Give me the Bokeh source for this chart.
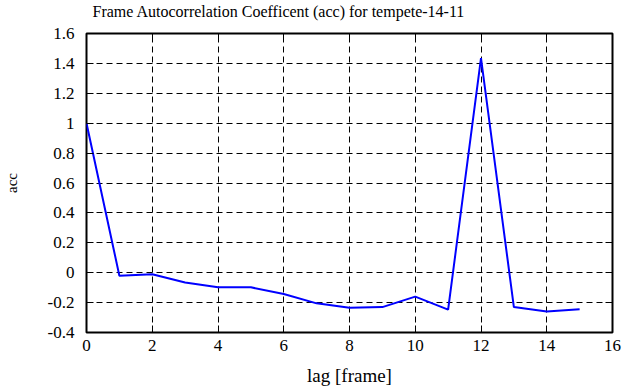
from bokeh.plotting import figure
from bokeh.models import FixedTicker, LinearAxis, Range1d, Title, CustomJSTickFormatter
from bokeh.embed import file_html
from bokeh.resources import INLINE

lags = [0, 1, 2, 3, 4, 5, 6, 7, 8, 9, 10, 11, 12, 13, 14, 15]
acc = [1.0, -0.02, -0.01, -0.065, -0.098, -0.098, -0.142, -0.205, -0.235, -0.23,
       -0.16, -0.247, 1.435, -0.23, -0.26, -0.245]

x_ticks = [0, 2, 4, 6, 8, 10, 12, 14, 16]
x_tick_labels = ["0", "2", "4", "6", "8", "10", "12", "14", "16"]
y_ticks = [-0.4, -0.2, 0, 0.2, 0.4, 0.6, 0.8, 1.0, 1.2, 1.4, 1.6]
y_tick_labels = ["-0.4", "-0.2", "0", "0.2", "0.4", "0.6", "0.8", "1", "1.2", "1.4", "1.6"]
title_text = "Frame Autocorrelation Coefficent (acc) for tempete-14-11"

FONT = "Liberation Serif"

LOOKUP = """
let best = 0, bd = Infinity;
for (let i = 0; i < tv.length; i++) {
  const d = Math.abs(tv[i] - tick);
  if (d < bd) { bd = d; best = i; }
}
return tl[best];
"""

p = figure(frame_width=526, frame_height=299,
           x_range=Range1d(0, 16), y_range=Range1d(-0.4, 1.6),
           output_backend="svg", toolbar_location=None,
           min_border_left=86, min_border_right=27, min_border_top=31, min_border_bottom=55,
           background_fill_color="white", border_fill_color="white")

p.title = Title(text=title_text, align="left", offset=6, text_font=FONT,
                text_font_size="16px", text_font_style="normal", text_color="black",
                standoff=0)

p.line(lags, acc, line_color="#0000ff", line_width=2)

p.outline_line_color = "black"
p.outline_line_width = 2
p.outline_line_alpha = 1

for ax in (p.xaxis[0], p.yaxis[0]):
    ax.axis_line_color = None
    ax.major_tick_in = 7
    ax.major_tick_out = 0
    ax.major_tick_line_color = "black"
    ax.major_tick_line_width = 1
    ax.minor_tick_line_color = None
    ax.major_label_text_font = FONT
    ax.major_label_text_font_size = "17px"
    ax.major_label_text_color = "black"
    ax.axis_label_text_font = FONT
    ax.axis_label_text_font_style = "normal"
    ax.axis_label_text_color = "black"

p.xaxis[0].ticker = FixedTicker(ticks=x_ticks)
p.xaxis[0].formatter = CustomJSTickFormatter(args=dict(tv=x_ticks, tl=x_tick_labels), code=LOOKUP)
p.xaxis[0].axis_label = "lag [frame]"
p.xaxis[0].axis_label_text_font_size = "19px"
p.xaxis[0].major_label_standoff = 7
p.xaxis[0].axis_label_standoff = 11

p.yaxis[0].ticker = FixedTicker(ticks=y_ticks)
p.yaxis[0].formatter = CustomJSTickFormatter(args=dict(tv=y_ticks, tl=y_tick_labels), code=LOOKUP)
p.yaxis[0].axis_label = "acc"
p.yaxis[0].axis_label_text_font_size = "15px"
p.yaxis[0].major_label_standoff = 12
p.yaxis[0].axis_label_standoff = 25

top_axis = LinearAxis(ticker=FixedTicker(ticks=x_ticks),
                      major_label_overrides={t: "" for t in x_ticks},
                      major_label_text_color=None, axis_line_color=None,
                      axis_label=" ", axis_label_text_font_size="10px",
                      axis_label_standoff=0, major_label_standoff=0,
                      major_tick_in=7, major_tick_out=0, minor_tick_line_color=None,
                      major_tick_line_color="black")
p.add_layout(top_axis, "above")

right_axis = LinearAxis(ticker=FixedTicker(ticks=y_ticks),
                        major_label_overrides={t: "" for t in y_ticks},
                        major_label_text_color=None, axis_line_color=None,
                        major_label_standoff=0,
                        major_tick_in=7, major_tick_out=0, minor_tick_line_color=None,
                        major_tick_line_color="black")
p.add_layout(right_axis, "right")

p.xgrid.ticker = FixedTicker(ticks=x_ticks)
p.ygrid.ticker = FixedTicker(ticks=y_ticks)
for g in (p.xgrid[0], p.ygrid[0]):
    g.grid_line_color = "black"
    g.grid_line_dash = "6 4"
    g.grid_line_width = 1

open("out.html", "w").write(file_html(p, INLINE))
